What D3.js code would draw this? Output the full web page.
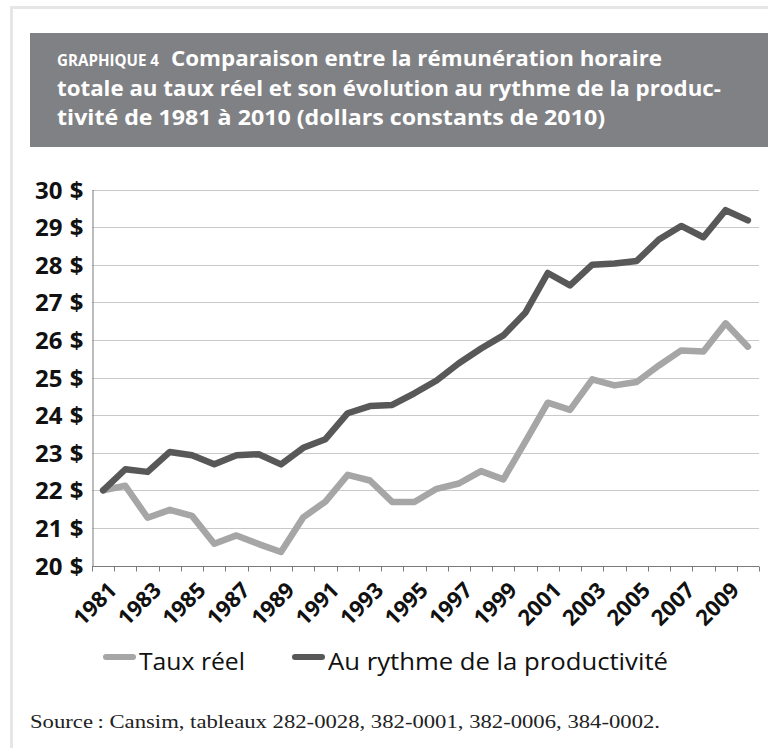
<!DOCTYPE html>
<html lang="fr">
<head>
<meta charset="utf-8">
<script src="https://cdn.jsdelivr.net/npm/d3@7"></script>
<style>
  body { margin: 0; background: #fff; }
  svg { display: block; }
</style>
</head>
<body>
<div id="chart"></div>
<script>
// Data (dollars constants de 2010)
const years = [1981, 1982, 1983, 1984, 1985, 1986, 1987, 1988, 1989, 1990,
    1991, 1992, 1993, 1994, 1995, 1996, 1997, 1998, 1999, 2000,
    2001, 2002, 2003, 2004, 2005, 2006, 2007, 2008, 2009, 2010];
const tauxReel = [22.0, 22.12, 21.27, 21.48, 21.32, 20.58, 20.8, 20.57, 20.36, 21.28,
    21.7, 22.41, 22.26, 21.69, 21.69, 22.04, 22.18, 22.51, 22.29, 23.3,
    24.33, 24.14, 24.95, 24.79, 24.88, 25.32, 25.72, 25.69, 26.44, 25.82];
const productivite = [22.0, 22.56, 22.49, 23.02, 22.93, 22.69, 22.93, 22.96, 22.69, 23.13,
    23.36, 24.05, 24.24, 24.27, 24.58, 24.92, 25.38, 25.77, 26.12, 26.73,
    27.78, 27.45, 28.0, 28.03, 28.1, 28.67, 29.03, 28.73, 29.45, 29.18];
const yTicks = [20, 21, 22, 23, 24, 25, 26, 27, 28, 29, 30];
const xTickLabels = [1981, 1983, 1985, 1987, 1989, 1991, 1993, 1995, 1997, 1999,
    2001, 2003, 2005, 2007, 2009];
const seriesNames = ["Taux réel", "Au rythme de la productivité"];
const seriesColors = ["#a6a6a6", "#585858"];
const titleLabel = "GRAPHIQUE 4";
const titleLines = [
    "Comparaison entre la rémunération horaire",
    "totale au taux réel et son évolution au rythme de la produc-",
    "tivité de 1981 à 2010 (dollars constants de 2010)"
];
const sourceText = "Source\u2009: Cansim, tableaux 282-0028, 382-0001, 382-0006, 384-0002.";

// Chart dimensions
const width = 768;
const height = 750;
const marginTop = 189.5;
const marginBottom = 184.5;
const marginLeft = 92;
const marginRight = 9;

const x = d3
    .scaleBand()
    .domain(years)
    .range([marginLeft, width - marginRight]);

const y = d3
    .scaleLinear()
    .domain([20, 30])
    .range([height - marginBottom, marginTop]);

const svg = d3
    .select("#chart")
    .append("svg")
    .attr("width", width)
    .attr("height", height)
    .attr("viewBox", [0, 0, width, height]);

// Outer frame (left and top edges visible)
svg.append("path")
    .attr("d", `M11.5,748V7.5H${width}`)
    .attr("fill", "none")
    .attr("stroke", "#e6e6e6")
    .attr("stroke-width", 3);

// Title box
svg.append("rect")
    .attr("x", 30)
    .attr("y", 33)
    .attr("width", width - 30)
    .attr("height", 114)
    .attr("fill", "#808184");

const title = svg.append("g")
    .attr("fill", "#fff")
    .style("font-family", "'Open Sans', sans-serif")
    .style("font-weight", 700);

title.append("text")
    .attr("x", 57)
    .attr("y", 66)
    .attr("font-size", 16)
    .attr("textLength", 102)
    .attr("lengthAdjust", "spacingAndGlyphs")
    .text(titleLabel);

const titleX = [171, 57, 57];
const titleLen = [491, 664, 548];
titleLines.forEach((t, i) => {
    title.append("text")
        .attr("x", titleX[i])
        .attr("y", 66 + i * 29.5)
        .attr("font-size", 22)
        .attr("textLength", titleLen[i])
        .attr("lengthAdjust", "spacingAndGlyphs")
        .text(t);
});

// Horizontal gridlines
svg.append("g")
    .attr("stroke", "#c9c9c9")
    .attr("stroke-width", 1)
    .selectAll("line")
    .data(yTicks.filter((d) => d > 20))
    .join("line")
    .attr("x1", marginLeft)
    .attr("x2", width - marginRight)
    .attr("y1", (d) => Math.round(y(d)) + 0.5)
    .attr("y2", (d) => Math.round(y(d)) + 0.5);

// Y axis
svg.append("g")
    .attr("transform", `translate(${marginLeft + 0.5},0)`)
    .call(d3.axisLeft(y).tickValues(yTicks).tickSize(0).tickPadding(9).tickFormat((d) => d + " $"))
    .call((g) => g.select(".domain").attr("stroke", "#7a7a7a"))
    .call((g) => g.selectAll("text")
        .attr("fill", "#111")
        .attr("dy", "0.36em")
        .style("font-family", "'Open Sans', sans-serif")
        .style("font-weight", 700)
        .style("word-spacing", "1px")
        .style("font-size", "24px"));

// X axis: tick marks between the categories
const xAxis = svg.append("g")
    .attr("transform", `translate(0,${Math.round(y(20)) + 0.5})`);

xAxis.append("line")
    .attr("x1", marginLeft)
    .attr("x2", width - marginRight)
    .attr("stroke", "#7a7a7a");

xAxis.selectAll(".tick")
    .data(years.map((d) => x(d)).concat([x.range()[1]]))
    .join("line")
    .attr("class", "tick")
    .attr("x1", (d) => Math.round(d) + 0.5)
    .attr("x2", (d) => Math.round(d) + 0.5)
    .attr("y1", 0)
    .attr("y2", 5)
    .attr("stroke", "#7a7a7a");

xAxis.selectAll("text")
    .data(xTickLabels)
    .join("text")
    .attr("transform", (d) => `translate(${x(d) + x.bandwidth() / 2 + 15},25) rotate(-45)`)
    .attr("text-anchor", "end")
    .attr("fill", "#111")
    .style("font-family", "'Open Sans', sans-serif")
    .style("font-weight", 700)
    .style("font-size", "22px")
    .text((d) => d);

// Lines
const line = d3.line()
    .x((d, i) => x(years[i]) + x.bandwidth() / 2)
    .y((d) => y(d));

svg.append("g")
    .attr("fill", "none")
    .attr("stroke-width", 6.5)
    .attr("stroke-linejoin", "round")
    .attr("stroke-linecap", "round")
    .selectAll("path")
    .data([tauxReel, productivite])
    .join("path")
    .attr("stroke", (d, i) => seriesColors[i])
    .attr("d", line);

// Legend
const legendX = [106, 295];
const legendLen = [106, 340];
const legend = svg.append("g")
    .selectAll("g")
    .data(seriesNames)
    .join("g")
    .attr("transform", (d, i) => `translate(${legendX[i]},657)`);

legend.append("line")
    .attr("x1", 0)
    .attr("x2", 27)
    .attr("stroke", (d, i) => seriesColors[i])
    .attr("stroke-width", 6)
    .attr("stroke-linecap", "round");

legend.append("text")
    .attr("x", 33)
    .attr("y", 13)
    .attr("fill", "#111")
    .attr("textLength", (d, i) => legendLen[i])
    .attr("lengthAdjust", "spacingAndGlyphs")
    .style("font-family", "'Open Sans', sans-serif")
    .style("font-size", "24px")
    .text((d) => d);

// Source note
svg.append("text")
    .attr("x", 30)
    .attr("y", 728)
    .attr("fill", "#222")
    .attr("textLength", 630)
    .attr("lengthAdjust", "spacingAndGlyphs")
    .style("font-family", "'Liberation Serif', serif")
    .style("font-size", "19px")
    .text(sourceText);
</script>
</body>
</html>
